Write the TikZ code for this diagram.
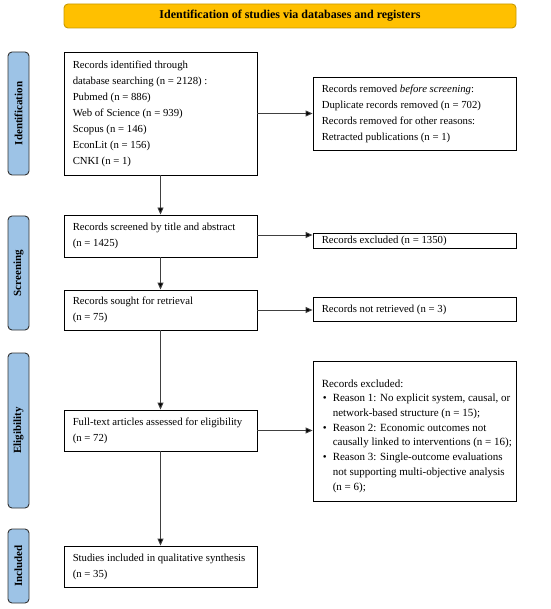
\documentclass[tikz,border=0pt]{standalone}
\usepackage{fontspec}
\setmainfont{Liberation Serif}
\usetikzlibrary{arrows.meta}
\definecolor{hdrfill}{HTML}{FFC000}
\definecolor{hdrdraw}{HTML}{C89A00}
\definecolor{sidefill}{HTML}{9DC3E6}
\definecolor{sidedraw}{HTML}{333333}
\definecolor{arrowcol}{HTML}{404040}
\begin{document}
\begin{tikzpicture}[x=1pt,y=-1pt,
  every node/.style={font=\fontsize{10.75}{16}\selectfont},
  box/.style={draw=black, line width=0.9pt, fill=white, inner sep=0pt},
  boxtext/.style={anchor=west, align=left, inner sep=0pt},
  sidelabel/.style={draw=sidedraw, fill=sidefill, line width=0.9pt, rounded corners=4pt, rotate=90,
    minimum height=21pt, inner sep=0pt, font=\fontsize{11}{12}\selectfont\bfseries},
  flow/.style={draw=arrowcol, line width=0.9pt, -{Triangle[length=7pt,width=6pt,fill=black]}}
]
\useasboundingbox (0,0) rectangle (550,609);
\fill[white] (0,0) rectangle (550,609);

% header
\node[draw=hdrdraw, fill=hdrfill, line width=0.9pt, rounded corners=4pt, minimum width=452pt, minimum height=24pt,
  inner sep=0pt, font=\fontsize{12}{14}\selectfont\bfseries] (hdr) at (290,16) {Identification of studies via databases and registers};

% side labels
\node[sidelabel, minimum width=123pt] (sideid) at (18.5,113.5) {Identification};
\node[sidelabel, minimum width=114pt] (sidescr) at (18.5,273) {Screening};
\node[sidelabel, minimum width=155pt] (sideel) at (18.5,430.5) {Eligibility};
\node[sidelabel, minimum width=74pt] (sideinc) at (18.5,566) {Included};

% left boxes
\node[box, minimum width=193pt, minimum height=123pt] (ident) at (160.5,113.5) {};
\node[boxtext] (identt) at ([xshift=9pt]ident.west)
  {Records identified through\\database searching (n = 2128) :\\Pubmed (n = 886)\\Web of Science (n = 939)\\Scopus (n = 146)\\EconLit (n = 156)\\CNKI (n = 1)};
\node[box, minimum width=193pt, minimum height=42pt] (screen) at (160.5,236) {};
\node[boxtext] (screent) at ([xshift=9pt]screen.west)
  {Records screened by title and abstract\\(n = 1425)};
\node[box, minimum width=193pt, minimum height=40pt] (sought) at (160.5,310) {};
\node[boxtext] (soughtt) at ([xshift=9pt]sought.west)
  {Records sought for retrieval\\(n = 75)};
\node[box, minimum width=193pt, minimum height=41pt] (full) at (160.5,430.5) {};
\node[boxtext] (fullt) at ([xshift=9pt]full.west)
  {Full-text articles assessed for eligibility\\(n = 72)};
\node[box, minimum width=193pt, minimum height=41pt] (incl) at (160.5,566.5) {};
\node[boxtext] (inclt) at ([xshift=9pt]incl.west)
  {Studies included in qualitative synthesis\\(n = 35)};

% right boxes
\node[box, minimum width=203pt, minimum height=73pt] (removed) at (414.5,113.5) {};
\node[boxtext] (removedt) at ([xshift=9pt]removed.west)
  {Records removed \textit{before screening}:\\Duplicate records removed (n = 702)\\Records removed for other reasons:\\Retracted publications (n = 1)};
\node[box, minimum width=203pt, minimum height=15pt] (excl) at (414.5,240.5) {};
\node[boxtext] (exclt) at ([xshift=9pt]excl.west) {Records excluded (n = 1350)};
\node[box, minimum width=203pt, minimum height=24pt] (notret) at (414.5,309.5) {};
\node[boxtext] (notrett) at ([xshift=9pt]notret.west) {Records not retrieved (n = 3)};
\node[box, minimum width=203pt, minimum height=140pt] (excl2) at (414.5,431) {};
\node[boxtext, font=\fontsize{11}{14.7}\selectfont] (excl2t) at ([xshift=9pt,yshift=-5pt]excl2.west)
  {\parbox{200pt}{\raggedright Records excluded:%
   \begin{list}{\textbullet}{\leftmargin=11pt \labelwidth=5pt \labelsep=6pt \itemsep=0pt \parsep=0pt \topsep=0pt \partopsep=0pt}
   \item Reason 1: No explicit system, causal, or\\network-based structure (n = 15);
   \item Reason 2: Economic outcomes not\\causally linked to interventions (n = 16);
   \item Reason 3: Single-outcome evaluations\\not supporting multi-objective analysis\\(n = 6);
   \end{list}}};

% connectors
\draw[flow] (ident) -- (screen);
\draw[flow] (screen) -- (sought);
\draw[flow] (sought) -- (full);
\draw[flow] (full) -- (incl);
\draw[flow] (ident.east) -- (ident.east -| removed.west);
\draw[flow] ([yshift=1pt]screen.east) -- ([yshift=1pt]screen.east -| excl.west);
\draw[flow] (sought.east) -- (sought.east -| notret.west);
\draw[flow] (full.east) -- (full.east -| excl2.west);
\end{tikzpicture}
\end{document}
